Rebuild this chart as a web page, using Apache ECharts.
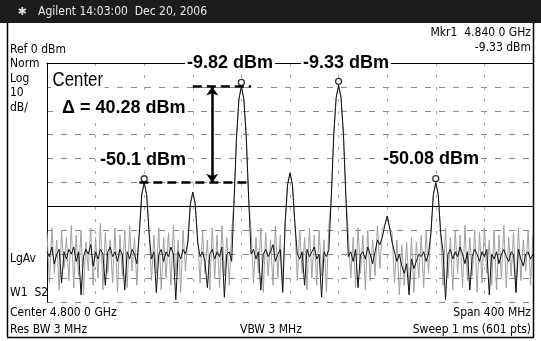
<!DOCTYPE html>
<html>
<head>
<meta charset="utf-8">
<script src="https://cdn.jsdelivr.net/npm/echarts@6/dist/echarts.min.js"></script>
<style>
  html, body { margin: 0; padding: 0; background: #fff; }
  #spectrum { width: 541px; height: 341px; }
</style>
</head>
<body>
<div id="spectrum"></div>
<script>
// sweep: 4600 MHz .. 5000 MHz, one sample every 2 MHz
const startMHz = 4600;
const stepMHz = 2;

// averaged trace (LgAv), dBm
const avgTrace = [
  -79, -81, -77, -84, -80, -78, -92, -79, -82, -78,
  -80, -77, -83, -79, -97, -81, -78, -80, -76, -85,
  -79, -82, -78, -80, -93, -79, -77, -81, -79, -83,
  -78, -80, -95, -79, -82, -78, -80, -84, -71, -55,
  -50.1, -55, -71, -82, -79, -96, -80, -78, -83, -79,
  -81, -77, -80, -99, -79, -82, -78, -80, -75, -59,
  -54, -59, -75, -81, -79, -83, -94, -80, -78, -82,
  -79, -81, -77, -98, -80, -79, -83, -57, -31, -15,
  -9.82, -15, -31, -57, -80, -78, -82, -79, -95, -80,
  -78, -81, -79, -76, -83, -80, -78, -96, -67, -51,
  -46, -51, -67, -80, -82, -79, -93, -78, -81, -79,
  -77, -82, -80, -98, -79, -81, -78, -56, -30, -14.5,
  -9.33, -14.5, -30, -56, -81, -79, -83, -78, -94, -80,
  -79, -82, -77, -80, -84, -79, -74, -76, -73, -68,
  -64, -69, -75, -79, -83, -80, -85, -88, -84, -97,
  -82, -86, -83, -80, -81, -79, -83, -80, -71, -55,
  -50.08, -55, -71, -79, -99, -80, -78, -82, -79, -81,
  -77, -80, -84, -79, -95, -81, -78, -80, -83, -79,
  -81, -78, -97, -80, -82, -79, -84, -80, -78, -81,
  -83, -79, -80, -96, -78, -82, -85, -80, -79, -82,
  -80
];

// clear/write trace (grey), dBm
const writeTrace = [
  -71, -92, -69, -88, -74, -95, -70, -86, -73, -91,
  -68, -94, -72, -89, -70, -97, -75, -87, -69, -93,
  -73, -90, -67, -95, -71, -88, -74, -92, -69, -96,
  -72, -89, -70, -94, -68, -87, -73, -93, -70, -55,
  -50.1, -55, -70, -91, -72, -88, -69, -95, -73, -90,
  -71, -93, -68, -89, -74, -96, -70, -87, -72, -59,
  -54, -59, -73, -92, -70, -88, -74, -95, -69, -90,
  -72, -94, -68, -89, -73, -93, -71, -57, -31, -15,
  -9.82, -15, -31, -57, -70, -92, -73, -88, -69, -96,
  -71, -89, -74, -93, -68, -90, -72, -94, -67, -51,
  -46, -51, -67, -91, -70, -88, -73, -95, -69, -90,
  -72, -93, -70, -89, -74, -96, -68, -56, -30, -14.5,
  -9.33, -14.5, -30, -56, -71, -90, -73, -94, -69, -88,
  -72, -95, -70, -91, -74, -89, -68, -86, -69, -68,
  -64, -69, -71, -92, -74, -97, -76, -93, -75, -95,
  -73, -96, -75, -90, -72, -94, -70, -88, -71, -55,
  -50.08, -55, -71, -93, -69, -90, -73, -95, -70, -88,
  -72, -94, -68, -91, -73, -89, -70, -96, -71, -92,
  -69, -88, -74, -93, -70, -95, -72, -90, -68, -94,
  -73, -89, -71, -96, -69, -91, -74, -87, -70, -93,
  -72
];

// marked peaks
const markerFreq = [4760, 4840, 4680, 4920];
const markerLevel = [-9.82, -9.33, -50.1, -50.08];

const displayLine = -60;

const small = "12px 'Liberation Sans Narrow', 'DejaVu Sans Condensed', sans-serif";
const big = "bold 18px 'Liberation Sans', Arial, sans-serif";

const chart = echarts.init(document.getElementById("spectrum"));

function pairs(trace) {
  return trace.map(function (v, i) {
    return [startMHz + i * stepMHz, v];
  });
}

function label(text, x, y, font, align, fill, bg, sx) {
  return {
    type: "text",
    z: 100,
    x: x,
    y: y,
    scaleX: sx || 1,
    style: {
      text: text, x: 0, y: 0, font: font,
      textAlign: align || "left", textVerticalAlign: "middle",
      fill: fill || "#000",
      backgroundColor: bg || null,
      padding: bg ? [1, 2] : 0
    }
  };
}

const option = {
  animation: false,
  backgroundColor: "#fff",
  grid: { left: 47, right: 8, top: 63, bottom: 39 },
  xAxis: {
    type: "value",
    min: 4600, max: 5000, interval: 40,
    axisLabel: { show: false },
    axisTick: { show: false },
    axisLine: { show: true, lineStyle: { color: "#000", width: 1 } },
    splitLine: { show: true, lineStyle: { color: "#aaa", type: [3, 9], width: 1 } }
  },
  yAxis: {
    type: "value",
    min: -100, max: 0, interval: 10,
    axisLabel: { show: false },
    axisTick: { show: false },
    axisLine: { show: true, lineStyle: { color: "#000", width: 1 } },
    splitLine: { show: true, lineStyle: { color: "#888", type: [6, 8], width: 1 } }
  },
  series: [
    {
      type: "line",
      data: pairs(writeTrace),
      symbol: "none",
      lineStyle: { color: "#a0a0a0", width: 1 },
      z: 2
    },
    {
      type: "line",
      data: pairs(avgTrace),
      symbol: "none",
      lineStyle: { color: "#111", width: 1 },
      z: 3,
      markLine: {
        silent: true,
        symbol: ["none", "none"],
        label: { show: false },
        data: [
          [
            { coord: [4600, displayLine], lineStyle: { color: "#000", width: 1, type: "solid" } },
            { coord: [5000, displayLine] }
          ],
          [
            { coord: [4676, markerLevel[2]], lineStyle: { color: "#000", width: 2.5, type: [9, 5] } },
            { coord: [4768, markerLevel[2]] }
          ],
          [
            { coord: [4720, markerLevel[0]], lineStyle: { color: "#000", width: 2.5, type: [9, 5] } },
            { coord: [4768, markerLevel[0]] }
          ],
          [
            { coord: [4736, markerLevel[0]], symbol: "arrow", symbolSize: 9, lineStyle: { color: "#000", width: 2.5, type: "solid" } },
            { coord: [4736, markerLevel[2]], symbol: "arrow", symbolSize: 9 }
          ]
        ]
      }
    },
    {
      type: "scatter",
      data: markerFreq.map(function (f, i) { return [f, markerLevel[i]]; }),
      symbol: "circle",
      symbolSize: 6,
      symbolOffset: [0, -4],
      itemStyle: { color: "#fff", borderColor: "#000", borderWidth: 1.3 },
      z: 5
    }
  ],
  graphic: [
    // title bar
    { type: "rect", shape: { x: 0, y: 0, width: 541, height: 23 }, style: { fill: "#1c1c1c" }, z: 90 },
    label("\u2731", 22, 12, "11px 'DejaVu Sans', sans-serif", "center", "#ddd"),
    label("Agilent 14:03:00  Dec 20, 2006", 38, 12, "12px 'Liberation Sans Narrow', 'DejaVu Sans Condensed', sans-serif", "left", "#e8e8e8"),
    // frame
    { type: "line", shape: { x1: 7.5, y1: 23, x2: 7.5, y2: 337 }, style: { stroke: "#000", lineWidth: 1.5 }, z: 90 },
    { type: "line", shape: { x1: 533.5, y1: 23, x2: 533.5, y2: 337 }, style: { stroke: "#000", lineWidth: 1.5 }, z: 90 },
    { type: "line", shape: { x1: 7, y1: 337.5, x2: 534, y2: 337.5 }, style: { stroke: "#000", lineWidth: 1.5 }, z: 90 },
    // instrument text
    label("Mkr1  4.840 0 GHz", 531, 33, small, "right"),
    label("-9.33 dBm", 531, 48, small, "right"),
    label("Ref 0 dBm", 10, 50, small),
    label("Norm", 10, 64, small),
    label("Log", 10, 79, small),
    label("10", 10, 93, small),
    label("dB/", 10, 108, small),
    label("LgAv", 10, 259, small),
    label("W1  S2", 10, 293, small),
    label("Center 4.800 0 GHz", 10, 313, small),
    label("Span 400 MHz", 531, 313, small, "right"),
    label("Res BW 3 MHz", 10, 330, small),
    label("VBW 3 MHz", 240, 330, small),
    label("Sweep 1 ms (601 pts)", 531, 330, small, "right"),
    // annotations
    label("-9.82 dBm", 185, 63, big, "left", "#000", "#fff"),
    label("-9.33 dBm", 301, 63, big, "left", "#000", "#fff"),
    label("Center", 51, 80, "21px 'Liberation Sans', sans-serif", "left", "#000", "#fff", 0.8),
    label("\u0394 = 40.28 dBm", 60, 108, big, "left", "#000", "#fff"),
    label("-50.1 dBm", 98, 160, big, "left", "#000", "#fff"),
    label("-50.08 dBm", 381, 159, big, "left", "#000", "#fff")
  ]
};

chart.setOption(option);
</script>
</body>
</html>
